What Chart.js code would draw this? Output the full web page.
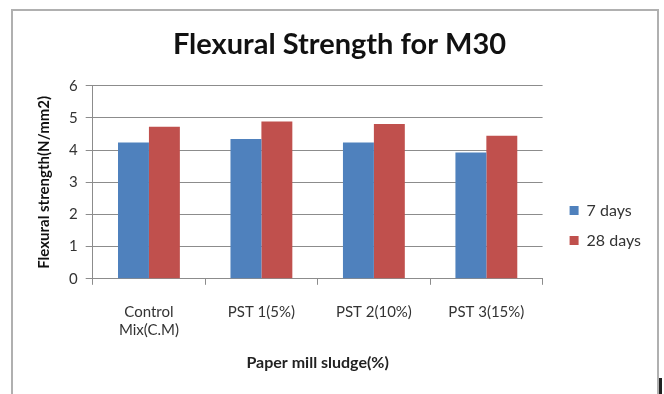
<!DOCTYPE html>
<html>
<head>
<meta charset="utf-8">
<script src="https://cdn.jsdelivr.net/npm/chart.js@4"></script>
<style>
  html, body { margin: 0; padding: 0; background: #fff; }
  #wrap { position: relative; width: 664px; height: 394px; overflow: hidden; }
  #frame { position: absolute; left: 11px; top: 9px; width: 644px; height: 420px; border: 2px solid #b0b0b0; }
  #mark { position: absolute; left: 659px; top: 378px; width: 3px; height: 16px; background: #222; }
  canvas { position: absolute; left: 0; top: 0; }
</style>
</head>
<body>
<div id="wrap">
  <div id="frame"></div>
  <canvas id="chart" width="664" height="394"></canvas>
  <div id="mark"></div>
</div>
<script>
const categories = [["Control", "Mix(C.M)"], "PST 1(5%)", "PST 2(10%)", "PST 3(15%)"];
const days7 = [4.24, 4.35, 4.24, 3.93];
const days28 = [4.73, 4.89, 4.81, 4.45];
const yTicks = [0, 1, 2, 3, 4, 5, 6];

const FONT = "Lato, 'Open Sans', sans-serif";
const GRID = "#8c8c8c";

// leave empty room between the plot and the legend, and sit the legend lower
const legendShift = {
  id: "legendShift",
  afterInit(chart) {
    const fit = chart.legend.fit;
    chart.legend.fit = function () {
      fit.call(this);
      this.width += 10;
    };
  },
  afterLayout(chart) {
    chart.legend.left += 13;
    chart.legend.top += 67;
  }
};

new Chart(document.getElementById("chart"), {
  type: "bar",
  data: {
    labels: categories,
    datasets: [
      { label: "7 days", data: days7, backgroundColor: "#4f81bd", barPercentage: 1, categoryPercentage: 0.55 },
      { label: "28 days", data: days28, backgroundColor: "#c0504d", barPercentage: 1, categoryPercentage: 0.55 }
    ]
  },
  options: {
    responsive: false,
    animation: false,
    layout: { padding: { left: 31, right: 16, top: 12, bottom: 22 } },
    plugins: {
      title: {
        display: true,
        text: "Flexural Strength for M30",
        color: "#111",
        font: { family: FONT, size: 29, weight: "bold" },
        padding: { top: 15, bottom: 24 }
      },
      legend: {
        position: "right",
        align: "center",
        labels: {
          color: "#333",
          font: { family: FONT, size: 16 },
          boxWidth: 9,
          boxHeight: 9,
          padding: 14
        }
      },
      tooltip: { enabled: false }
    },
    scales: {
      x: {
        grid: { drawOnChartArea: false, drawTicks: true, tickLength: 6, color: GRID },
        border: { color: GRID, width: 1 },
        ticks: { color: "#333", font: { family: FONT, size: 15 }, padding: 18 },
        title: {
          display: true,
          text: "Paper mill sludge(%)",
          color: "#222",
          font: { family: FONT, size: 16, weight: "bold" },
          padding: { top: -4, bottom: 0 }
        }
      },
      y: {
        min: 0,
        max: 6,
        afterBuildTicks: axis => { axis.ticks = yTicks.map(v => ({ value: v })); },
        grid: { color: GRID, tickLength: 7 },
        border: { color: GRID, width: 1 },
        ticks: { color: "#333", font: { family: FONT, size: 15 }, padding: 8 },
        title: {
          display: true,
          text: "Flexural strength(N/mm2)",
          color: "#111",
          font: { family: FONT, size: 15, weight: "bold" },
          padding: { bottom: 8 }
        }
      }
    }
  },
  plugins: [legendShift]
});
</script>
</body>
</html>
